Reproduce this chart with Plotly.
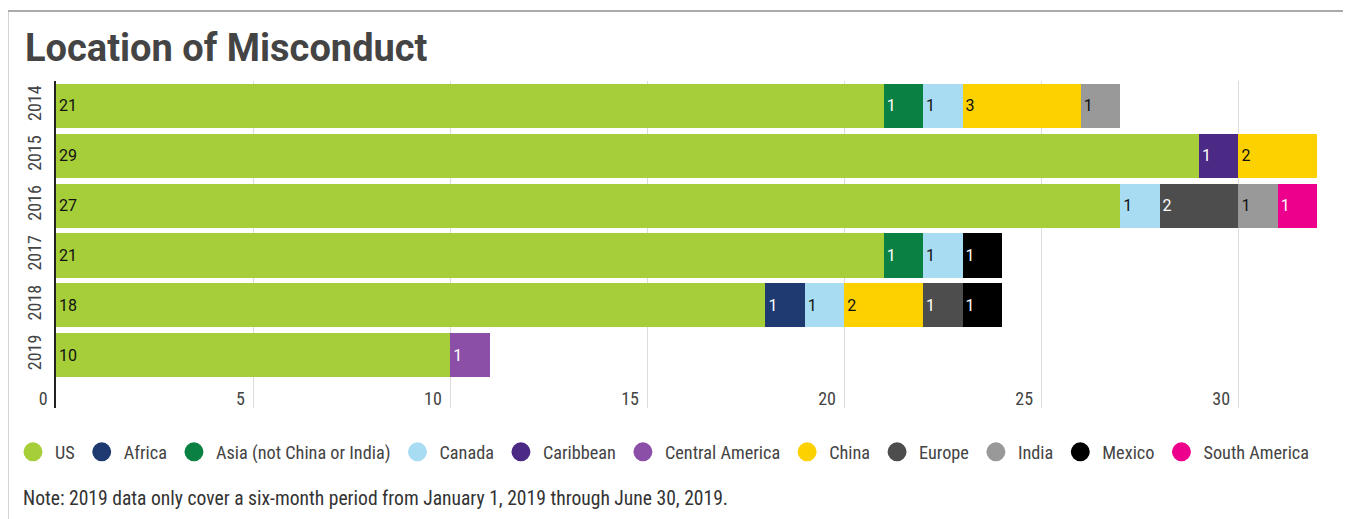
import plotly.graph_objects as go

years = ["2014", "2015", "2016", "2017", "2018", "2019"]
regions = ["US", "Africa", "Asia (not China or India)", "Canada", "Caribbean",
           "Central America", "China", "Europe", "India", "Mexico", "South America"]
us = [21, 29, 27, 21, 18, 10]
africa = [0, 0, 0, 0, 1, 0]
asia = [1, 0, 0, 1, 0, 0]
canada = [1, 0, 1, 1, 1, 0]
caribbean = [0, 1, 0, 0, 0, 0]
central_america = [0, 0, 0, 0, 0, 1]
china = [3, 2, 0, 0, 2, 0]
europe = [0, 0, 2, 0, 1, 0]
india = [1, 0, 1, 0, 0, 0]
mexico = [0, 0, 0, 1, 1, 0]
south_america = [0, 0, 1, 0, 0, 0]
series = [us, africa, asia, canada, caribbean, central_america, china, europe, india, mexico, south_america]
colors = ["#a6ce39", "#1f3a70", "#0a8043", "#a8dcf2", "#4b2a86", "#8b4fa8",
          "#fdd000", "#4d4d4d", "#999999", "#000000", "#ec008c"]
text_colors = ["#111", "#fff", "#fff", "#111", "#fff", "#fff", "#111", "#fff", "#111", "#fff", "#fff"]
x_ticks = [0, 5, 10, 15, 20, 25, 30]

cond = "Roboto Condensed, Liberation Sans Narrow, Roboto, sans-serif"
NB = "\u00a0"

W, H = 1351, 511
PW, PH = 1277, 327
L = 48

fig = go.Figure()
for name, vals, c, tc in zip(regions, series, colors, text_colors):
    fig.add_trace(go.Bar(
        y=years, x=vals, orientation="h", name=name,
        marker=dict(color=c, line=dict(width=0)),
        text=[str(v) if v else "" for v in vals],
        textposition="inside", insidetextanchor="start",
        textfont=dict(color=tc, size=16, family="Roboto"),
        showlegend=False, hoverinfo="skip",
    ))
for name, c in zip(regions, colors):
    fig.add_trace(go.Scatter(
        x=[None], y=[None], mode="markers", name=name,
        marker=dict(color=c, size=16, symbol="circle", line=dict(color=c, width=3)),
        showlegend=True, hoverinfo="skip",
    ))

fig.update_layout(
    width=W, height=H,
    barmode="stack", bargap=0.116,
    margin=dict(l=L, r=W - L - PW, t=73, b=111, autoexpand=False),
    paper_bgcolor="white", plot_bgcolor="white",
    uniformtext=dict(minsize=8, mode="show"),
    title=dict(text="<b>Location of Misconduct</b>", x=17/W, xanchor="left",
               y=1-40/H, yanchor="middle",
               font=dict(family="Roboto", size=38, color="#444444")),
    xaxis=dict(range=[0, 32.4], tickvals=x_ticks,
               ticktext=[f"{v}{NB}{NB}" for v in x_ticks],
               showgrid=True, gridcolor="#dcdcdc", automargin=False,
               gridwidth=1, zeroline=False, ticks="", ticklabelposition="outside left",
               ticklabelstandoff=-22,
               tickfont=dict(family=cond, size=18, color="#444444"), fixedrange=True),
    yaxis=dict(type="category", categoryorder="array", categoryarray=years,
               range=[6.06, -0.5], showline=True, linecolor="#222222", linewidth=2,
               tickangle=-90, ticks="", ticklabelstandoff=6, automargin=False,
               tickfont=dict(family=cond, size=18, color="#444444"), showgrid=False),
    legend=dict(orientation="h", x=-45/PW, xanchor="left", y=(408-452)/PH,
                yanchor="middle", font=dict(family=cond, size=18.25, color="#444444"),
                itemwidth=34, itemclick=False, traceorder="normal"),
    annotations=[dict(text="Note: 2019 data only cover a six-month period from January 1, 2019 through June 30, 2019.",
                      xref="paper", yref="paper", x=(21-56)/PW, y=(408-498)/PH,
                      xanchor="left", yanchor="middle", showarrow=False,
                      font=dict(family=cond, size=19.6, color="#333333"))],
    shapes=[dict(type="rect", xref="paper", yref="paper",
                 x0=(7.5-56)/PW, x1=(1350-56)/PW, y0=(408-540)/PH, y1=(408-11)/PH,
                 line=dict(color="#aaaaaa", width=2), fillcolor="rgba(0,0,0,0)", layer="below")],
)
fig.write_html("out.html")
